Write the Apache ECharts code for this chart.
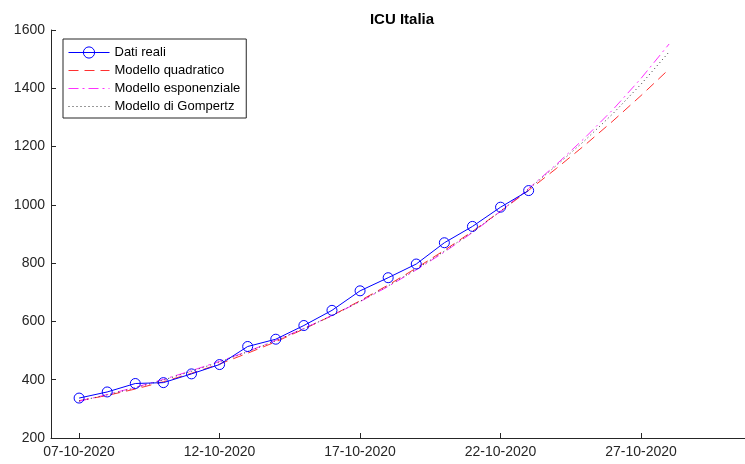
<!DOCTYPE html>
<html>
<head>
<meta charset="utf-8">
<script src="https://cdn.jsdelivr.net/npm/echarts@6/dist/echarts.min.js"></script>
<style>html,body{margin:0;padding:0;background:#fff}#c{width:745px;height:464px}</style>
</head>
<body>
<div id="c"></div>
<script>
// Day index 0 = 07-10-2020
const dayLabels = {0:'07-10-2020',5:'12-10-2020',10:'17-10-2020',15:'22-10-2020',20:'27-10-2020'};
const tickDays = [0,5,10,15,20];
const yTicks = [200,400,600,800,1000,1200,1400,1600];

const realDays = [0,1,2,3,4,5,6,7,8,9,10,11,12,13,14,15,16];
const realValues = [337,358,387,390,420,452,514,539,586,638,705,750,797,870,926,992,1049];

const modelDays = [0,1,2,3,4,5,6,7,8,9,10,11,12,13,14,15,16,17,18,19,20,21];
const quadValues = [328,346,368,393,422,454,491,530,574,620,671,725,783,844,909,978,1050,1126,1205,1288,1375,1466];
const expValues  = [326,349,374,401,431,463,497,535,576,620,668,720,777,838,905,978,1056,1140,1230,1327,1434,1552];
const gompValues = [327,348,372,399,429,461,496,534,575,620,669,722,779,841,907,978,1054,1136,1221,1313,1414,1525];

const pair = (xs, ys) => xs.map((x,i)=>[x, ys[i]]);
const axisCol = '#262626';
const font = 'Liberation Sans, Arial, Helvetica, sans-serif';

const chart = echarts.init(document.getElementById('c'), null, {renderer:'canvas'});
chart.setOption({
  animation:false,
  backgroundColor:'#fff',
  title:{text:'ICU Italia', left:397, textAlign:'center', top:7,
    textStyle:{fontFamily:font, fontSize:15, fontWeight:'bold', color:'#000'}},
  grid:{left:51, right:0, top:30, bottom:26, containLabel:false},
  legend:{
    orient:'vertical', left:63, top:39,
    padding:[7,6,5,5], itemGap:5, itemWidth:41, itemHeight:14,
    borderColor:'#262626', borderWidth:1, backgroundColor:'#fff',
    textStyle:{fontFamily:font, fontSize:13, color:'#000'},
    data:[
      {name:'Dati reali', itemStyle:{borderWidth:1}, lineStyle:{width:1}},
      {name:'Modello quadratico', itemStyle:{opacity:0}, lineStyle:{width:1}},
      {name:'Modello esponenziale', itemStyle:{opacity:0}, lineStyle:{width:1}},
      {name:'Modello di Gompertz', itemStyle:{opacity:0}, lineStyle:{width:1}}
    ]
  },
  xAxis:{
    type:'value', min:-1, max:23.7,
    splitLine:{show:false},
    axisLine:{show:true, onZero:false, lineStyle:{color:axisCol, width:1}},
    axisTick:{show:true, inside:true, length:5, customValues:tickDays, lineStyle:{color:axisCol}},
    axisLabel:{customValues:tickDays, margin:7, color:axisCol, fontFamily:font, fontSize:14,
      formatter:v=>dayLabels[v]||''}
  },
  yAxis:{
    type:'value', min:200, max:1600, interval:200,
    splitLine:{show:false},
    axisLine:{show:true, onZero:false, lineStyle:{color:axisCol, width:1}},
    axisTick:{show:true, inside:true, length:5, lineStyle:{color:axisCol}},
    axisLabel:{margin:6, color:axisCol, fontFamily:font, fontSize:14,
      formatter:v=>String(v)}
  },
  series:[
    {name:'Dati reali', type:'line', z:5, data:pair(realDays, realValues),
      symbol:'circle', symbolSize:10, showSymbol:true,
      lineStyle:{color:'#0000ff', width:1},
      itemStyle:{color:'rgba(255,255,255,0)', borderColor:'#0000ff', borderWidth:1}},
    {name:'Modello quadratico', type:'line', z:3, data:pair(modelDays, quadValues),
      symbol:'none', smooth:false,
      lineStyle:{color:'#ff3030', width:1, type:[10,6]}, itemStyle:{color:'#ff3030'}},
    {name:'Modello esponenziale', type:'line', z:3, data:pair(modelDays, expValues),
      symbol:'none',
      lineStyle:{color:'#ff30ff', width:1, type:[10,4,2,4]}, itemStyle:{color:'#ff30ff'}},
    {name:'Modello di Gompertz', type:'line', z:3, data:pair(modelDays, gompValues),
      symbol:'none',
      lineStyle:{color:'#333333', width:1, type:[1,3]}, itemStyle:{color:'#333333'}}
  ]
});
</script>
</body>
</html>
